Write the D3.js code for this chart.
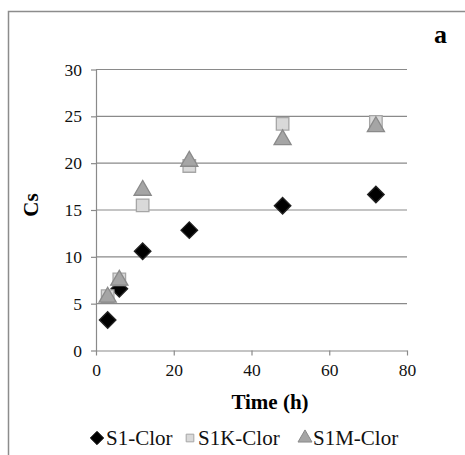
<!DOCTYPE html>
<html><head><meta charset="utf-8">
<script src="https://cdn.jsdelivr.net/npm/d3@7"></script>
<style>body{margin:0;background:#fff}svg{display:block}</style>
</head><body>
<script>
const times = [3, 6, 12, 24, 48, 72];
const s1 = [3.25, 6.6, 10.6, 12.85, 15.45, 16.65];
const s1k = [5.8, 7.6, 15.5, 19.7, 24.2, 24.4];
const s1m = [5.7, 7.5, 17.1, 20.2, 22.5, 23.9];
const seriesNames = ["S1-Clor", "S1K-Clor", "S1M-Clor"];
const xTicks = [0, 20, 40, 60, 80];
const yTicks = [0, 5, 10, 15, 20, 25, 30];

const W = 465, H = 455;
const svg = d3.select("body").append("svg").attr("width", W).attr("height", H)
  .style("font-family", "Liberation Serif");
const font = "Liberation Serif";

// outer border
svg.append("path").attr("d", `M8.5,${H+5} L8.5,11.5 L${W+5},11.5`)
  .attr("fill", "none").attr("stroke", "#8c8c8c").attr("stroke-width", 1.5);

const x = d3.scaleLinear().domain([0, 80]).range([96, 407]);
const y = d3.scaleLinear().domain([0, 30]).range([350.5, 69.5]);

// gridlines
svg.append("g").selectAll("line").data(yTicks.filter(d => d > 0)).join("line")
  .attr("x1", x(0)).attr("x2", x(80)).attr("y1", d => y(d)).attr("y2", d => y(d))
  .attr("stroke", "#8a8a8a").attr("stroke-width", 1.2);

// y axis
const yAxis = d3.axisLeft(y).tickValues(yTicks).tickSize(5).tickSizeOuter(0).tickPadding(9);
const gy = svg.append("g").attr("transform", `translate(${x(0)},0)`).call(yAxis);
// x axis
const xAxis = d3.axisBottom(x).tickValues(xTicks).tickSize(5).tickSizeOuter(0).tickPadding(8);
const gx = svg.append("g").attr("transform", `translate(0,${y(0)})`).call(xAxis);
[gx, gy].forEach(g => {
  g.attr("font-family", null).attr("font-size", null);
  g.select(".domain").attr("stroke", "#8a8a8a").attr("stroke-width", 1.2);
  g.selectAll(".tick line").attr("stroke", "#8a8a8a").attr("stroke-width", 1.2);
  g.selectAll("text").style("font-family", font).style("font-size", "17.5px").attr("fill", "#111");
});

// axis titles
svg.append("text").attr("x", 270).attr("y", 409).attr("text-anchor", "middle")
  .style("font-family", font).style("font-weight", "bold").style("font-size", "21px").text("Time (h)");
svg.append("text").attr("transform", "translate(38,205) rotate(-90)").attr("text-anchor", "middle")
  .style("font-family", font).style("font-weight", "bold").style("font-size", "21px").text("Cs");
svg.append("text").attr("x", 434).attr("y", 43)
  .style("font-family", font).style("font-weight", "bold").style("font-size", "26px").text("a");

const styles = [
  {type: d3.symbolDiamond2, size: 175, fill: "#000", stroke: "#222"},
  {type: d3.symbolSquare2, size: 200, fill: "#d9d9d9", stroke: "#a6a6a6"},
  {type: d3.symbolTriangle2, size: 210, fill: "#a5a5a5", stroke: "#8a8a8a"}
];
const all = [s1, s1k, s1m];
all.forEach((vals, i) => {
  const st = styles[i];
  svg.append("g").selectAll("path").data(vals).join("path")
    .attr("transform", (d, j) => `translate(${x(times[j])},${y(d)})`)
    .attr("d", d3.symbol().type(st.type).size(st.size))
    .attr("fill", st.fill).attr("stroke", st.stroke).attr("stroke-width", 1.3);
});

// legend
const legX = [97, 190, 305];
const legTx = [106, 198, 313];
const lg = svg.append("g");
seriesNames.forEach((n, i) => {
  const st = styles[i];
  const sz = i === 1 ? 75 : (i === 0 ? 115 : 140);
  lg.append("path").attr("transform", `translate(${legX[i]},${438})`)
    .attr("d", d3.symbol().type(st.type).size(sz))
    .attr("fill", st.fill).attr("stroke", st.stroke).attr("stroke-width", 1);
  lg.append("text").attr("x", legTx[i]).attr("y", 445)
    .style("font-family", font).style("font-size", "21px").attr("fill", "#111").text(n);
});
</script>
</body></html>
